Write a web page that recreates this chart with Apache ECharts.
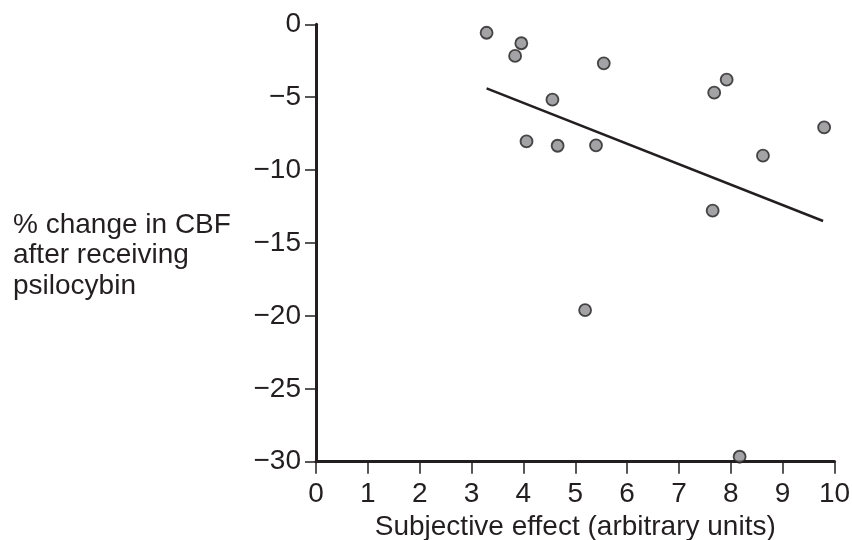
<!DOCTYPE html>
<html>
<head>
<meta charset="utf-8">
<script src="https://cdn.jsdelivr.net/npm/echarts@6/dist/echarts.min.js"></script>
<style>
  html, body { margin: 0; padding: 0; background: #fff; }
  #chart { width: 852px; height: 540px; }
</style>
</head>
<body>
<div id="chart"></div>
<script>
// subjective effect (x) vs % change in CBF (y), one entry per subject
var effect = [3.29, 3.96, 3.84, 4.56, 4.06, 4.66, 5.40, 5.55, 7.92, 7.68, 9.80, 8.62, 7.65, 5.19, 8.17];
var cbfChange = [-0.58, -1.30, -2.17, -5.17, -8.03, -8.33, -8.30, -2.68, -3.80, -4.69, -7.07, -9.01, -12.78, -19.6, -29.66];

// regression line end points
var fitX = [3.29, 9.78];
var fitY = [-4.39, -13.49];

var xTicks = [0, 1, 2, 3, 4, 5, 6, 7, 8, 9, 10];
var yTicks = [0, -5, -10, -15, -20, -25, -30];

var yTitle = '% change in CBF\nafter receiving\npsilocybin';
var xTitle = 'Subjective effect (arbitrary units)';

var ink = '#231f20';
var font = '"Liberation Sans", Arial, sans-serif';

var points = [];
for (var i = 0; i < effect.length; i++) {
    points.push([effect[i], cbfChange[i]]);
}
var fitLine = [];
for (var j = 0; j < fitX.length; j++) {
    fitLine.push([fitX[j], fitY[j]]);
}

var chart = echarts.init(document.getElementById('chart'), null, { renderer: 'canvas' });

chart.setOption({
    animation: false,
    backgroundColor: '#ffffff',
    grid: { left: 316, right: 17.5, top: 24.3, bottom: 78.3, outerBoundsMode: 'none' },
    // y title sits left of the tick labels, horizontal, three lines
    graphic: [{
        type: 'text',
        left: 13,
        top: 210,
        style: {
            text: yTitle,
            fill: ink,
            fontSize: 28,
            fontFamily: font,
            lineHeight: 30.5
        }
    }],
    xAxis: {
        type: 'value',
        min: xTicks[0],
        max: xTicks[xTicks.length - 1],
        interval: 1,
        name: xTitle,
        nameLocation: 'middle',
        nameGap: 51,
        nameTextStyle: { color: ink, fontSize: 28, fontFamily: font },
        axisLine: { onZero: false, lineStyle: { color: ink, width: 3 } },
        axisTick: { length: 12, lineStyle: { color: ink, width: 1.5 } },
        axisLabel: { color: ink, fontSize: 28, fontFamily: font, margin: 19 },
        splitLine: { show: false }
    },
    yAxis: {
        type: 'value',
        min: yTicks[yTicks.length - 1],
        max: yTicks[0],
        interval: 5,
        axisLine: { show: true, onZero: false, lineStyle: { color: ink, width: 3 } },
        axisTick: { show: true, length: 11, lineStyle: { color: ink, width: 1.5 } },
        axisLabel: {
            color: ink, fontSize: 28, fontFamily: font, margin: 15,
            formatter: function (v) { return String(v).replace('-', '\u2212'); }
        },
        splitLine: { show: false }
    },
    series: [
        {
            type: 'line',
            data: fitLine,
            symbol: 'none',
            lineStyle: { color: ink, width: 2.5 },
            z: 2
        },
        {
            type: 'scatter',
            data: points,
            symbol: 'circle',
            symbolSize: 12,
            itemStyle: { color: '#8c8c8e', borderColor: ink, borderWidth: 1.8 },
            clip: false,
            z: 3
        }
    ]
});
</script>
</body>
</html>
